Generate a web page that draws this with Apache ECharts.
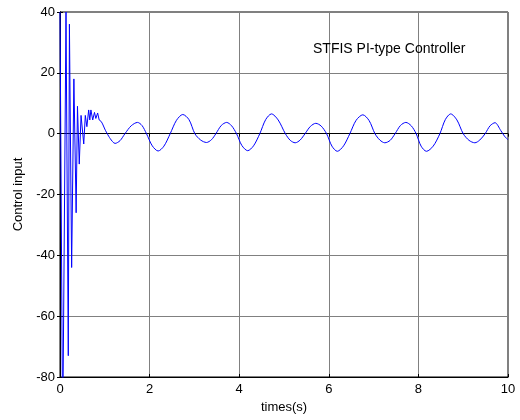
<!DOCTYPE html>
<html>
<head>
<meta charset="utf-8">
<script src="https://cdn.jsdelivr.net/npm/echarts@6/dist/echarts.min.js"></script>
<style>
  html, body { margin: 0; padding: 0; background: #fff; }
  #chart { width: 520px; height: 420px; }
</style>
</head>
<body>
<div id="chart"></div>
<script>
// x axis ticks and y axis ticks
var xTicks = [0, 2, 4, 6, 8, 10];
var yTicks = [-80, -60, -40, -20, 0, 20, 40];

// start-up transient (sharp spikes)
var transT = [0, 0.06, 0.134, 0.185, 0.21, 0.26, 0.31, 0.36, 0.39, 0.43, 0.47, 0.53, 0.565, 0.6, 0.64, 0.665, 0.69, 0.73, 0.77, 0.8, 0.84, 0.875, 0.92, 0.95, 1.01];
var transV = [40, -100, 40, -73, 36, -44, 18, -26, 9, -10, 6, -3.4, 6, 2.3, 7.8, 4.5, 7.8, 4.5, 7, 5, 6.8, 4.5, 4, 3.2, 1.2];

// steady oscillation afterwards
var waveT = [1.01, 1.12, 1.23, 1.34, 1.45, 1.59, 1.73, 1.83, 1.93, 2.06, 2.19, 2.32, 2.46, 2.6, 2.74, 2.88,
  3.01, 3.14, 3.27, 3.38, 3.48, 3.6, 3.72, 3.83, 3.94, 4.06, 4.19, 4.32, 4.46, 4.59, 4.72, 4.87,
  5.03, 5.14, 5.25, 5.36, 5.47, 5.59, 5.71, 5.83, 5.95, 6.07, 6.19, 6.33, 6.47, 6.61, 6.76, 6.9,
  7.03, 7.14, 7.25, 7.37, 7.48, 7.6, 7.72, 7.84, 7.95, 8.06, 8.18, 8.33, 8.48, 8.6, 8.72, 8.86,
  9.0, 9.13, 9.26, 9.37, 9.49, 9.6, 9.71, 9.84, 9.92, 10];
var waveV = [1.2, -1.6, -3.2, -2.3, 0, 2.6, 3.7, 2.7, 0, -4.0, -5.7, -4.1, 0, 4.4, 6.3, 4.6,
  0, -2.1, -2.9, -2.0, 0, 2.7, 3.7, 2.6, 0, -3.9, -5.6, -4.0, 0, 4.6, 6.5, 4.5,
  0, -2.2, -3, -2.1, 0, 2.4, 3.4, 2.5, 0, -4.1, -5.8, -4.0, 0, 4.4, 6.2, 4.3,
  0, -2.1, -3, -2.2, 0, 2.7, 3.7, 2.6, 0, -4.1, -5.8, -4.1, 0, 4.6, 6.5, 4.5,
  0, -2.2, -3, -2.1, 0, 2.6, 3.6, 1.0, -0.8, -2];

var chart = echarts.init(document.getElementById('chart'));

function pairs(t, v) {
  return t.map(function (x, i) { return [x, v[i]]; });
}

var font = 'Liberation Sans, Arial, sans-serif';

chart.setOption({
  animation: false,
  backgroundColor: '#fff',
  title: {
    text: 'STFIS PI-type Controller',
    left: 308,
    top: 37,
    textStyle: { fontFamily: font, fontSize: 14, fontWeight: 'normal', color: '#000' }
  },
  grid: {
    left: 60,
    right: 12,
    top: 12,
    bottom: 43,
    show: true,
    borderColor: '#000',
    borderWidth: 1
  },
  xAxis: [{
    type: 'value',
    min: xTicks[0],
    max: xTicks[xTicks.length - 1],
    interval: 2,
    name: 'times(s)',
    nameLocation: 'middle',
    nameGap: 21,
    nameTextStyle: { fontFamily: font, fontSize: 13, color: '#000' },
    axisLine: { show: true, onZero: false, lineStyle: { color: '#000' } },
    axisTick: { inside: true, length: 3, lineStyle: { color: '#000' } },
    axisLabel: { fontFamily: font, fontSize: 13, color: '#000', margin: 6 },
    splitLine: { show: true, lineStyle: { color: '#808080', width: 1 } }
  }, {
    type: 'value',
    position: 'top',
    min: xTicks[0],
    max: xTicks[xTicks.length - 1],
    interval: 2,
    axisLine: { show: true, lineStyle: { color: '#000' } },
    axisTick: { inside: true, length: 3, lineStyle: { color: '#000' } },
    axisLabel: { show: false },
    splitLine: { show: false }
  }],
  yAxis: [{
    type: 'value',
    min: yTicks[0],
    max: yTicks[yTicks.length - 1],
    interval: 20,
    name: 'Control input',
    nameLocation: 'middle',
    nameGap: 34,
    nameTextStyle: { fontFamily: font, fontSize: 13, color: '#000' },
    axisLine: { show: true, onZero: false, lineStyle: { color: '#000' } },
    axisTick: { inside: true, length: 3, lineStyle: { color: '#000' } },
    axisLabel: { fontFamily: font, fontSize: 13, color: '#000', margin: 5 },
    splitLine: { show: true, lineStyle: { color: '#808080', width: 1 } }
  }, {
    type: 'value',
    position: 'right',
    min: yTicks[0],
    max: yTicks[yTicks.length - 1],
    interval: 20,
    axisLine: { show: true, lineStyle: { color: '#000' } },
    axisTick: { inside: true, length: 3, lineStyle: { color: '#000' } },
    axisLabel: { show: false },
    splitLine: { show: false }
  }],
  series: [{
    name: 'transient',
    type: 'line',
    data: pairs(transT, transV),
    showSymbol: false,
    clip: true,
    lineStyle: { color: '#0000ff', width: 1 },
    z: 3
  }, {
    name: 'steady',
    type: 'line',
    data: pairs(waveT, waveV),
    showSymbol: false,
    smooth: 0.3,
    clip: true,
    lineStyle: { color: '#0000ff', width: 1 },
    z: 3
  }]
});
</script>
</body>
</html>
